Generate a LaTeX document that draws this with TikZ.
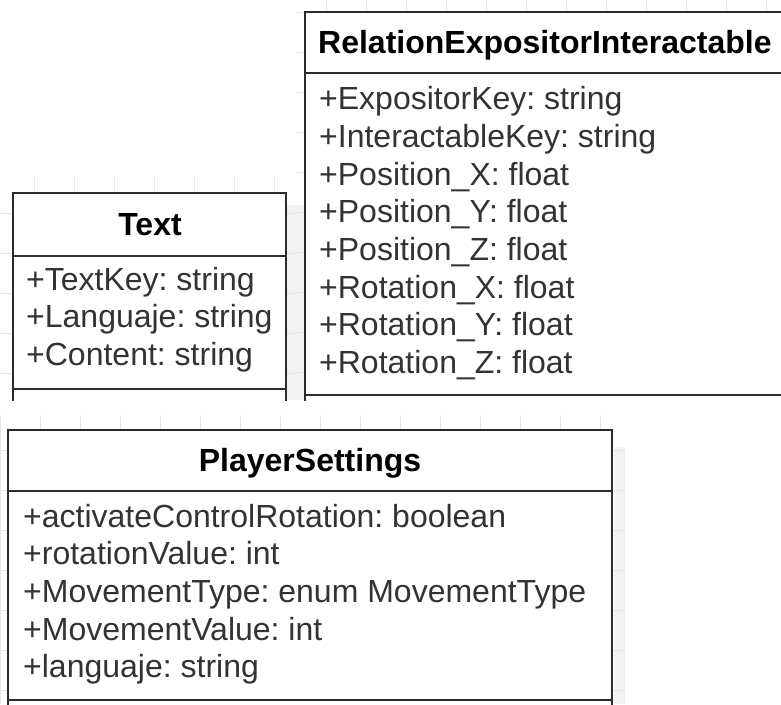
\documentclass[tikz,border=0pt]{standalone}
\usepackage{fontspec}
\setmainfont{Liberation Sans}
\frenchspacing
\definecolor{gridc}{HTML}{E6E6E6}
\definecolor{stripc}{HTML}{F2F2F2}
\definecolor{linec}{HTML}{2B2B2B}
\definecolor{txtc}{HTML}{333333}
\tikzset{
  gridline/.style={draw=gridc, line width=1pt},
  boxline/.style={draw=linec, line width=2pt},
  boxfill/.style={fill=white},
  hdr/.style={font=\fontsize{32}{38}\selectfont\bfseries\frenchspacing, text=black, inner sep=0pt, anchor=base},
  attr/.style={font=\fontsize{32}{38}\selectfont\frenchspacing, text=txtc, inner sep=0pt, anchor=base west},
}
\begin{document}
\begin{tikzpicture}[x=1pt,y=-1pt]
\useasboundingbox (0,0) rectangle (781,704);
\clip (0,0) rectangle (781,704);
\fill[white] (0,0) rectangle (781,704);
% --- crop 1 background (Text)
\begin{scope}
  \clip (0,176) rectangle (297,400);
  \fill[stripc] (287,205) rectangle (297,400);
  \foreach \x in {-6,34,...,274} \draw[gridline] (\x,176) -- (\x,400);
  \foreach \y in {213,253,...,373} \draw[gridline] (0,\y) -- (297,\y);
\end{scope}
% --- crop 2 background (Relation)
\begin{scope}
  \clip (297,0) rectangle (781,400);
  \fill[stripc] (297,205) rectangle (305,400);
  \foreach \x in {326,366,...,766} \draw[gridline] (\x,0) -- (\x,400);
  \foreach \y in {12,52,...,372} \draw[gridline] (297,\y) -- (781,\y);
\end{scope}
% --- crop 3 background (PlayerSettings)
\begin{scope}
  \clip (0,415) rectangle (625,704);
  \fill[stripc] (614,447) rectangle (625,704);
  \foreach \x in {0,40,...,600} \draw[gridline] (\x,415) -- (\x,704);
  \foreach \y in {450,490,...,690} \draw[gridline] (0,\y) -- (625,\y);
\end{scope}
% --- Text box
\fill[boxfill] (13,193) rectangle (286,404);
\draw[boxline] (13,401) -- (13,193) -- (286,193) -- (286,401);
\draw[boxline] (13,256) -- (286,256);
\draw[boxline] (13,389) -- (286,389);
\node[hdr] (textHdr) at (150,235) {Text};
\node[attr] (textA1) at (26,290) {+TextKey: string};
\node[attr] (textA2) at (26,327) {+Languaje: string};
\node[attr] (textA3) at (26,365) {+Content: string};
% --- RelationExpositorInteractable box
\fill[boxfill] (305,12) rectangle (790,404);
\draw[boxline] (305,401) -- (305,12) -- (790,12);
\draw[boxline] (305,73) -- (790,73);
\draw[boxline] (305,395) -- (790,395);
\node[hdr, anchor=base west] (relHdr) at (318,53) {RelationExpositorInteractable};
\node[attr] (relA1) at (319,109) {+ExpositorKey: string};
\node[attr] (relA2) at (319,147) {+InteractableKey: string};
\node[attr] (relA3) at (319,185) {+Position\_X: float};
\node[attr] (relA4) at (319,222) {+Position\_Y: float};
\node[attr] (relA5) at (319,260) {+Position\_Z: float};
\node[attr] (relA6) at (319,298) {+Rotation\_X: float};
\node[attr] (relA7) at (319,335) {+Rotation\_Y: float};
\node[attr] (relA8) at (319,373) {+Rotation\_Z: float};
% --- PlayerSettings box
\fill[boxfill] (8,430) rectangle (612,710);
\draw[boxline] (8,710) -- (8,430) -- (612,430) -- (612,710);
\draw[boxline] (8,491) -- (612,491);
\draw[boxline] (8,700) -- (612,700);
\node[hdr] (plHdr) at (310,471) {PlayerSettings};
\node[attr] (plA1) at (23,527) {+activateControlRotation: boolean};
\node[attr] (plA2) at (23,564) {+rotationValue: int};
\node[attr] (plA3) at (23,602) {+MovementType: enum MovementType};
\node[attr] (plA4) at (23,640) {+MovementValue: int};
\node[attr] (plA5) at (23,677) {+languaje: string};
\end{tikzpicture}
\end{document}
